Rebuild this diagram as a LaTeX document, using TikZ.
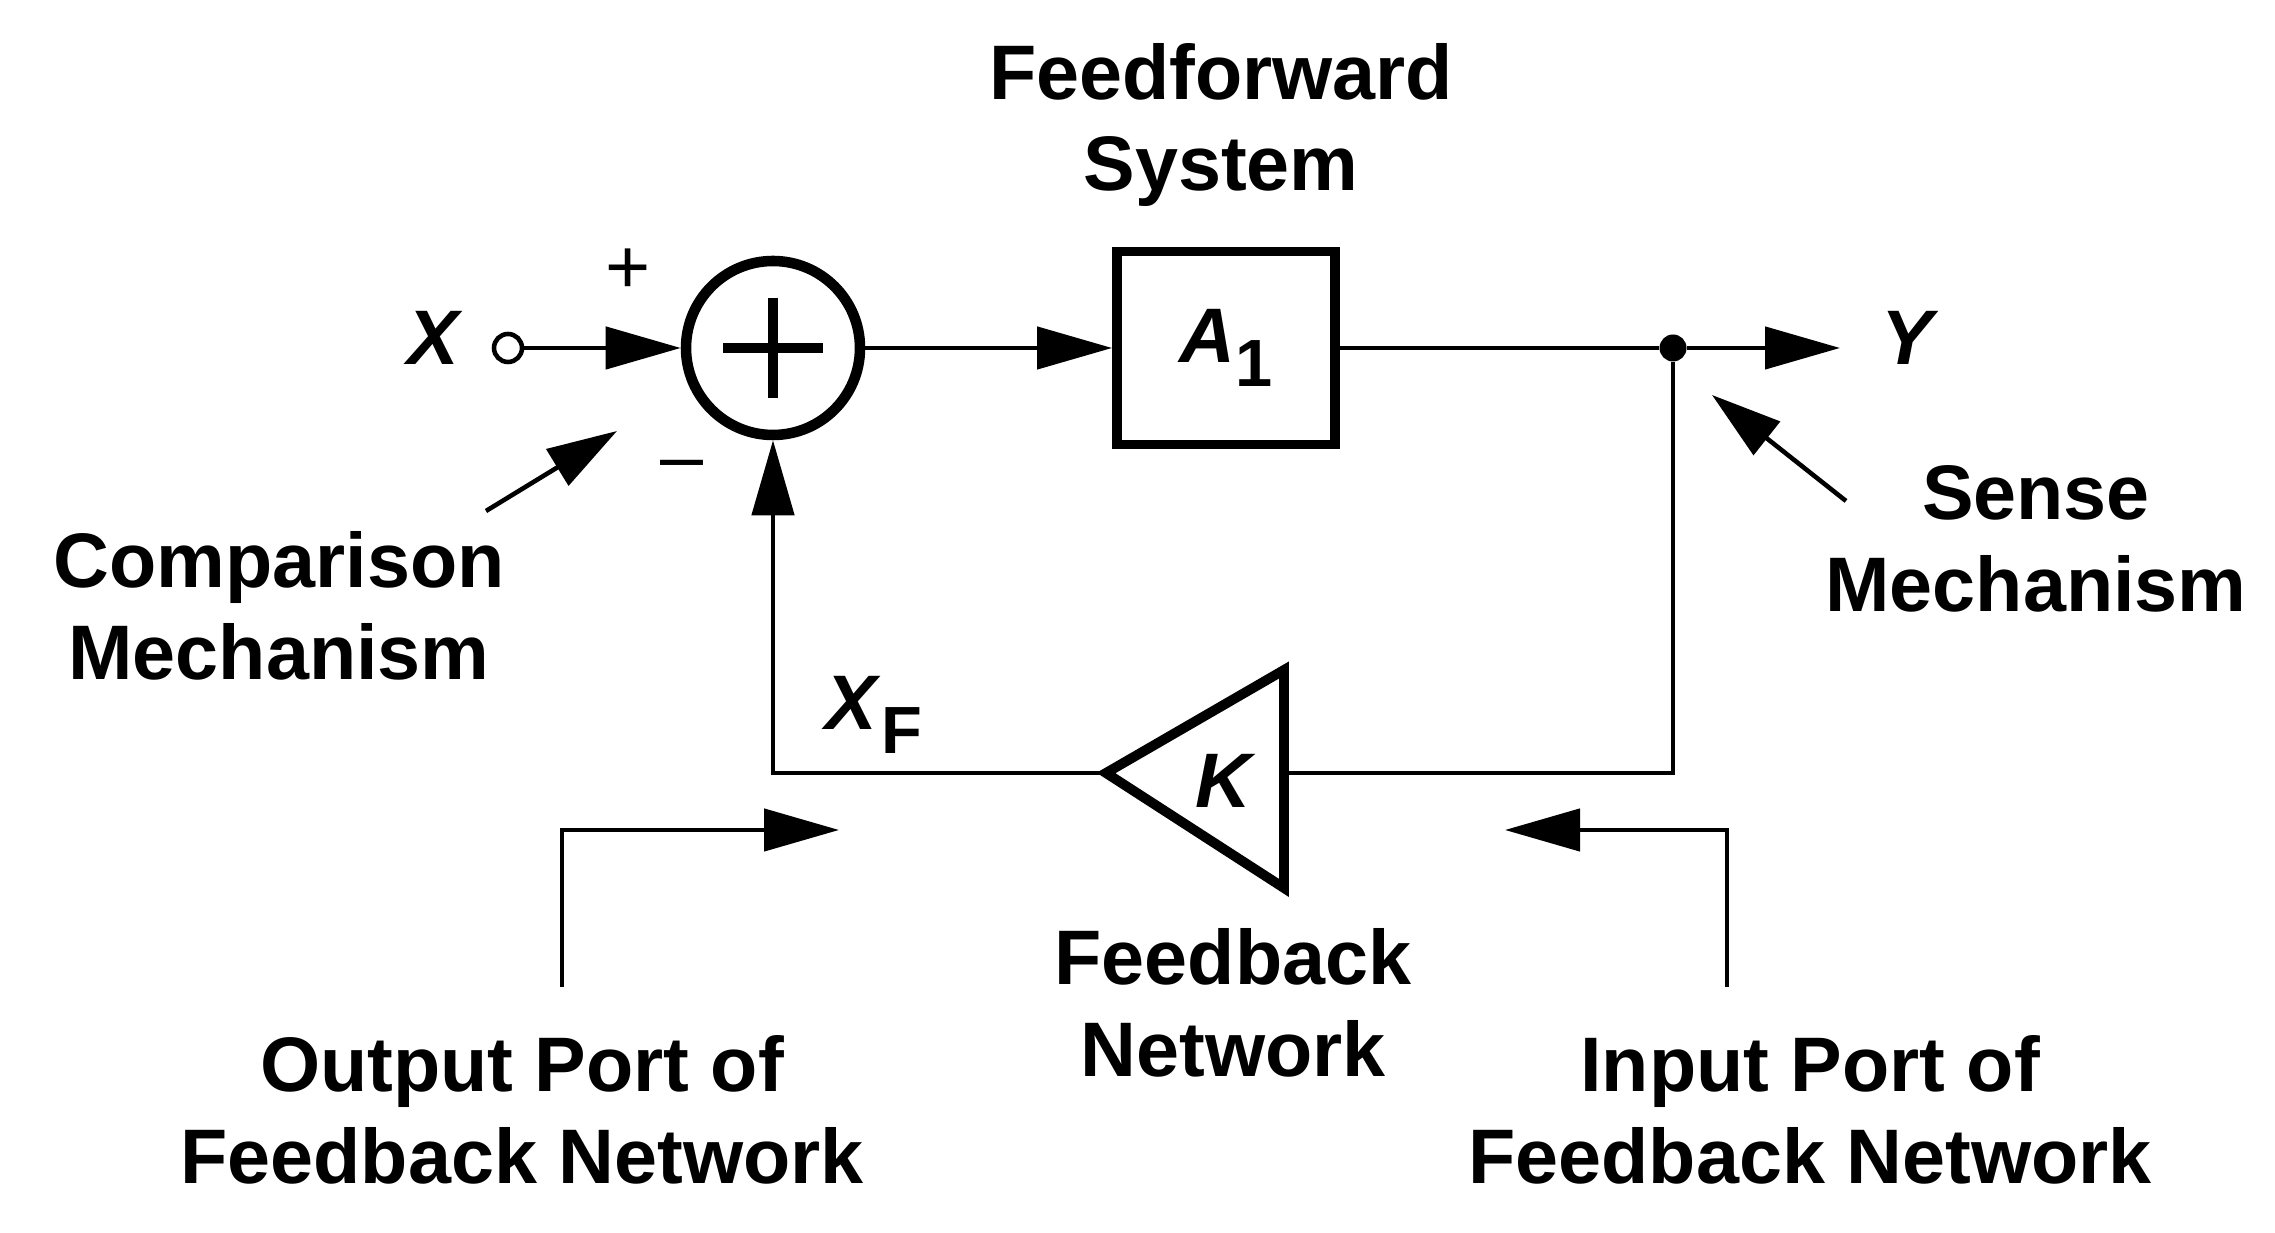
\documentclass[tikz,border=0pt]{standalone}
\usepackage{fontspec}
\setmainfont{Liberation Sans}
\usetikzlibrary{arrows.meta}
\begin{document}
\begin{tikzpicture}\tikzstyle{every node}=[font=\bfseries\fontsize{22}{26}\selectfont]
\tikzstyle{sig}=[line width=1.3pt, -{Triangle[length=0.75cm, width=0.42cm]}]
\tikzstyle{pointer}=[line width=1.3pt, -{Triangle[length=0.7cm, width=0.42cm]}]
\tikzstyle{blk}=[line width=2.8pt]
\useasboundingbox (0,0) rectangle (22.75,12.33);
% input
  \node[draw, circle, line width=1.3pt, inner sep=0pt, minimum size=0.28cm] (xin) at (5.08,8.85) {};
  \node (xlab) at (4.35,8.95) {\textit{X}};
% summing point
  \node[draw, circle, line width=3pt, minimum size=1.74cm, inner sep=0pt] (sum) at (7.73,8.85) {};
  \draw[line width=3pt] ([xshift=-0.5cm]sum.center) -- ([xshift=0.5cm]sum.center);
  \draw[line width=3pt] ([yshift=-0.5cm]sum.center) -- ([yshift=0.5cm]sum.center);
  \node (plus) at (6.28,9.62) {\fontseries{m}\selectfont +};
  \node (minus) at (6.82,7.62) {\fontseries{m}\selectfont --};
% comparison
  \node[align=center] (cmp) at (2.79,6.27) {Comparison\\Mechanism};
  \coordinate (cmptail) at (4.86,7.22);
  \coordinate (cmptip) at (6.17,8.02);
% feedforward
  \node[draw, blk, minimum width=2.18cm, minimum height=1.93cm] (amp) at (12.26,8.85)%
{%
  \textit{A}\raisebox{-0.6ex}{\fontsize{19}{22}\selectfont 1}%
};
  \node[align=center] (fflab) at (12.21,11.08) {Feedforward\\System};
% output
  \node[circle, fill, inner sep=0pt, minimum size=0.27cm] (jn) at (16.73,8.85) {};
  \coordinate (yout) at (18.40,8.85);
  \node (ylab) at (19.10,8.95) {\textit{Y}};
  \node[align=center] (sense) at (20.36,6.94) {Sense\\Mechanism};
  \coordinate (sensetail) at (18.46,7.32);
  \coordinate (sensetip) at (17.12,8.38);
% feedback network
  \coordinate (kin) at (12.84,4.60);
  \coordinate (kout) at (11.06,4.60);
  \draw[blk, line join=miter] (kout) -- (12.84,5.63) -- (12.84,3.45) -- cycle;
  \node (klab) at (12.26,4.52) {\textit{K}};
  \node (xflab) at (8.74,5.18) {\textit{X}\raisebox{-0.6ex}{\fontsize{19}{22}\selectfont F}};
  \node[align=center] (fblab) at (12.33,2.30) {Feedback\\Network};
% ports
  \node[align=center] (outport) at (5.22,1.23) {Output Port of\\Feedback Network};
  \node[align=center] (inport) at (18.10,1.23) {Input Port of\\Feedback Network};
  \coordinate (op) at (5.62,2.46);
  \coordinate (optip) at (8.39,4.03);
  \coordinate (ip) at (17.27,2.46);
  \coordinate (iptip) at (15.05,4.03);
%%%%%%%%%%%%%%%%
\draw[sig] (xin.east) -- (sum.west);
\draw[sig] (sum.east) -- (amp.west);
\draw[line width=1.3pt] (amp.east) -- (jn);
\draw[sig] (jn) -- (yout);
\draw[line width=1.3pt] (jn) |- (kin);
\draw[sig] (kout) -| (sum.south);
\draw[pointer] (cmptail) -- (cmptip);
\draw[pointer] (sensetail) -- (sensetip);
\draw[sig] (op) |- (optip);
\draw[sig] (ip) |- (iptip);
\end{tikzpicture}
\end{document}
